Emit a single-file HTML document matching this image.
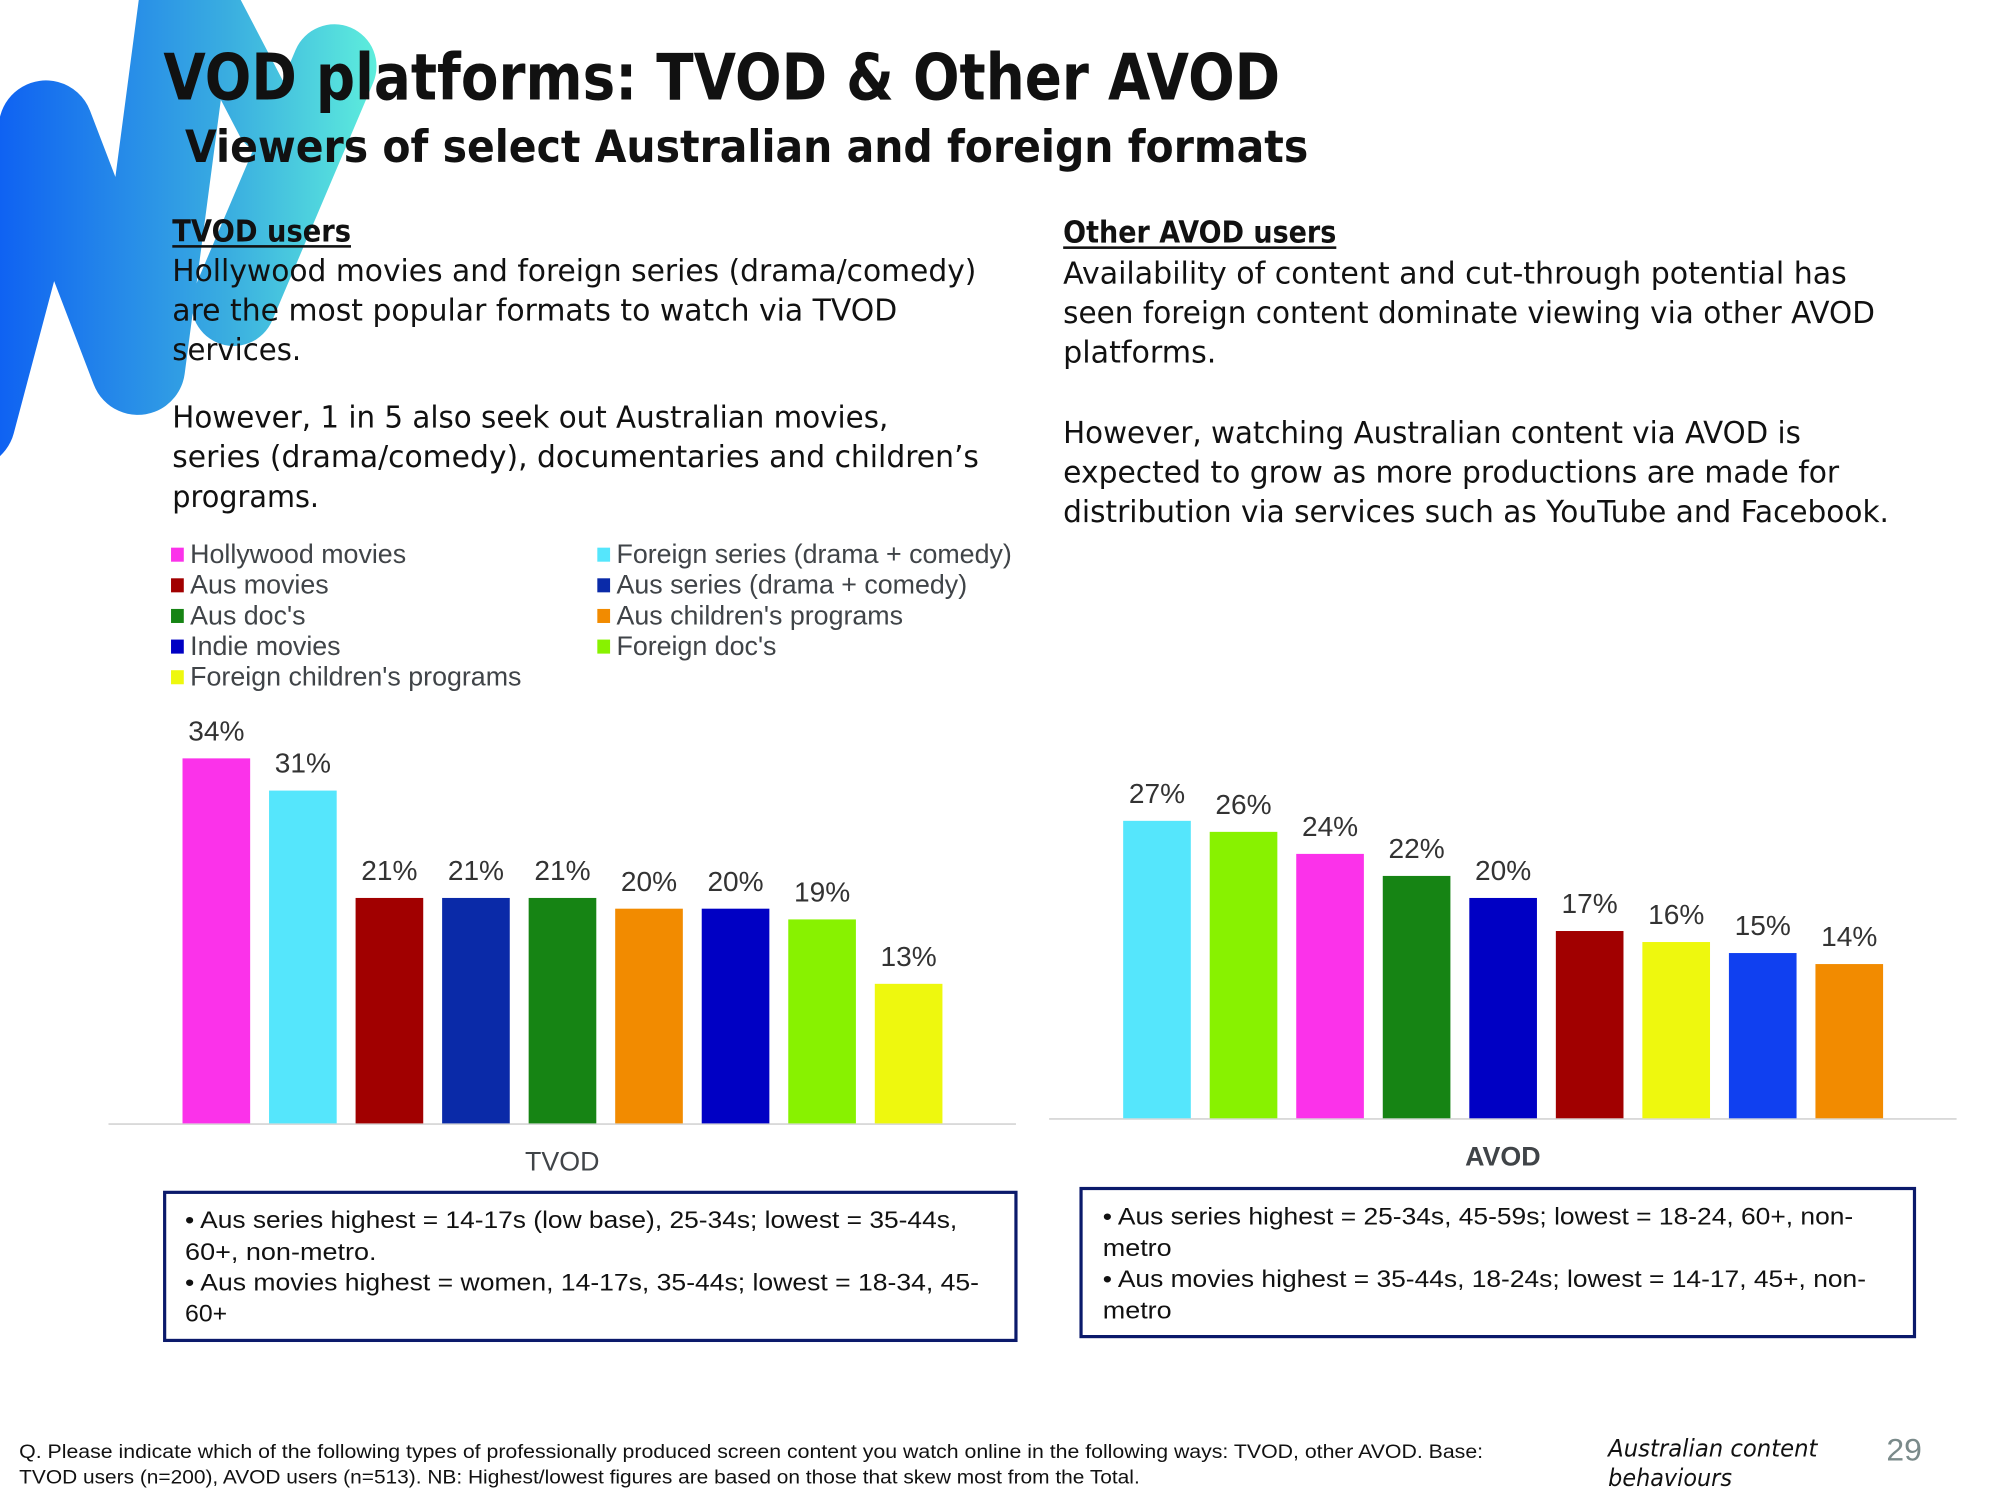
<!DOCTYPE html>
<html><head><meta charset="utf-8"><title>VOD platforms: TVOD &amp; Other AVOD</title>
<style>
html,body{margin:0;padding:0;background:#fff;}
svg{display:block;}
.t{font-family:"DejaVu Sans","Liberation Sans",sans-serif;fill:#111;}
.n{font-family:"Liberation Sans Narrow","Liberation Sans",sans-serif;}
</style></head>
<body>
<svg id="page" width="2000" height="1500" viewBox="0 0 1567 1175" preserveAspectRatio="none" xmlns="http://www.w3.org/2000/svg">
<defs>
<linearGradient id="lg" gradientUnits="userSpaceOnUse" x1="0" y1="0" x2="300" y2="0">
<stop offset="0" stop-color="#0f62f2"/><stop offset="0.6" stop-color="#3aaee0"/><stop offset="1" stop-color="#5ff0dc"/>
</linearGradient>
</defs>
<g>
<path d="M -25 330 L 36 100 L 108 288 L 150 -30" fill="none" stroke="url(#lg)" stroke-width="74" stroke-linejoin="round" stroke-linecap="round"/>
<path d="M 150 -20 L 210 95" fill="none" stroke="url(#lg)" stroke-width="50" stroke-linecap="round"/>
<path d="M 183 238 L 262 52" fill="none" stroke="url(#lg)" stroke-width="66" stroke-linecap="round"/>
</g>

<text class="t" x="128" y="78" font-size="50" font-weight="bold" textLength="875" lengthAdjust="spacingAndGlyphs">VOD platforms: TVOD &amp; Other AVOD</text>
<text class="t" x="145" y="127" font-size="35" font-weight="bold" textLength="880" lengthAdjust="spacingAndGlyphs">Viewers of select Australian and foreign formats</text>

<g font-size="24">
<text class="t" x="135" y="189" font-weight="bold" textLength="140" lengthAdjust="spacingAndGlyphs">TVOD users</text>
<rect x="135" y="192" width="140" height="2" fill="#111"/>
<text class="t" x="135" y="220" textLength="630" lengthAdjust="spacingAndGlyphs">Hollywood movies and foreign series (drama/comedy)</text>
<text class="t" x="135" y="251" textLength="568" lengthAdjust="spacingAndGlyphs">are the most popular formats to watch via TVOD</text>
<text class="t" x="135" y="282" textLength="101" lengthAdjust="spacingAndGlyphs">services.</text>
<text class="t" x="135" y="335" textLength="561" lengthAdjust="spacingAndGlyphs">However, 1 in 5 also seek out Australian movies,</text>
<text class="t" x="135" y="366" textLength="632" lengthAdjust="spacingAndGlyphs">series (drama/comedy), documentaries and children’s</text>
<text class="t" x="135" y="397" textLength="115" lengthAdjust="spacingAndGlyphs">programs.</text>
</g>

<g font-size="24">
<text class="t" x="833" y="190" font-weight="bold" textLength="214" lengthAdjust="spacingAndGlyphs">Other AVOD users</text>
<rect x="833" y="193" width="214" height="2" fill="#111"/>
<text class="t" x="833" y="222" textLength="614" lengthAdjust="spacingAndGlyphs">Availability of content and cut-through potential has</text>
<text class="t" x="833" y="253" textLength="636" lengthAdjust="spacingAndGlyphs">seen foreign content dominate viewing via other AVOD</text>
<text class="t" x="833" y="284" textLength="120" lengthAdjust="spacingAndGlyphs">platforms.</text>
<text class="t" x="833" y="347" textLength="578" lengthAdjust="spacingAndGlyphs">However, watching Australian content via AVOD is</text>
<text class="t" x="833" y="378" textLength="608" lengthAdjust="spacingAndGlyphs">expected to grow as more productions are made for</text>
<text class="t" x="833" y="409" textLength="647" lengthAdjust="spacingAndGlyphs">distribution via services such as YouTube and Facebook.</text>
</g>

<g id="legend"></g>
<g id="tvod-chart"></g>
<g id="avod-chart"></g>

<g font-size="19">
<rect x="129" y="934" width="667" height="116" fill="#fff" stroke="#0b1a6b" stroke-width="2.5"/>
<text class="t n" x="145" y="962" textLength="605" lengthAdjust="spacingAndGlyphs">• Aus series highest = 14-17s (low base), 25-34s; lowest = 35-44s,</text>
<text class="t n" x="145" y="987" textLength="150" lengthAdjust="spacingAndGlyphs">60+, non-metro.</text>
<text class="t n" x="145" y="1011" textLength="622" lengthAdjust="spacingAndGlyphs">• Aus movies highest = women, 14-17s, 35-44s; lowest = 18-34, 45-</text>
<text class="t n" x="145" y="1035" textLength="33" lengthAdjust="spacingAndGlyphs">60+</text>
</g>
<g font-size="19">
<rect x="847" y="931" width="653" height="116" fill="#fff" stroke="#0b1a6b" stroke-width="2.5"/>
<text class="t n" x="864" y="959" textLength="588" lengthAdjust="spacingAndGlyphs">• Aus series highest = 25-34s, 45-59s; lowest = 18-24, 60+, non-</text>
<text class="t n" x="864" y="984" textLength="54" lengthAdjust="spacingAndGlyphs">metro</text>
<text class="t n" x="864" y="1008" textLength="598" lengthAdjust="spacingAndGlyphs">• Aus movies highest = 35-44s, 18-24s; lowest = 14-17, 45+, non-</text>
<text class="t n" x="864" y="1033" textLength="54" lengthAdjust="spacingAndGlyphs">metro</text>
</g>

<g font-size="15">
<text class="t n" x="15" y="1142" textLength="1147" lengthAdjust="spacingAndGlyphs">Q. Please indicate which of the following types of professionally produced screen content you watch online in the following ways: TVOD, other AVOD. Base:</text>
<text class="t n" x="15" y="1162" textLength="878" lengthAdjust="spacingAndGlyphs">TVOD users (n=200), AVOD users (n=513). NB: Highest/lowest figures are based on those that skew most from the Total.</text>
</g>
<text class="t" x="1260" y="1141" font-size="19" font-style="italic" textLength="164" lengthAdjust="spacingAndGlyphs">Australian content</text>
<text class="t" x="1260" y="1164" font-size="19" font-style="italic" textLength="97" lengthAdjust="spacingAndGlyphs">behaviours</text>
<text class="t n" x="1478" y="1144" font-size="25" style="fill:#7a8a8a">29</text>
</svg>
<script>
const legendLabels = ["Hollywood movies","Aus movies","Aus doc's","Indie movies","Foreign children's programs","Foreign series (drama + comedy)","Aus series (drama + comedy)","Aus children's programs","Foreign doc's"];
const legendColors = ["#fb32ea","#a10000","#168414","#0000c4","#eef80e","#55e6fc","#0a2aa8","#f28b00","#88f200"];

const tvodCategories = ["Hollywood movies","Foreign series (drama + comedy)","Aus movies","Aus series (drama + comedy)","Aus doc's","Aus children's programs","Indie movies","Foreign doc's","Foreign children's programs"];
const tvodValues = [34,31,21,21,21,20,20,19,13];
const tvodColors = ["#fb32ea","#55e6fc","#a10000","#0a2aa8","#168414","#f28b00","#0000c4","#88f200","#eef80e"];

const avodCategories = ["Foreign series (drama + comedy)","Foreign doc's","Hollywood movies","Aus doc's","Indie movies","Aus movies","Foreign children's programs","Aus series (drama + comedy)","Aus children's programs"];
const avodValues = [27,26,24,22,20,17,16,15,14];
const avodColors = ["#55e6fc","#88f200","#fb32ea","#168414","#0000c4","#a10000","#eef80e","#1040f0","#f28b00"];

const NS = "http://www.w3.org/2000/svg";
function mk(tag, attrs, parent){ const e=document.createElementNS(NS,tag); for(const k in attrs) e.setAttribute(k,attrs[k]); parent.appendChild(e); return e; }

const lg = document.getElementById('legend');
legendLabels.forEach((lab,i)=>{
  const col = i<5?0:1, row = i<5?i:i-5;
  const x = col===0?134:468, y = 441 + row*24;
  const g = mk('g',{},lg);
  
  
  mk('rect',{x:x,y:y-12,width:10,height:11,fill:legendColors[i]},g);
  const t = mk('text',{x:x+15,y:y,'font-size':21,fill:'#404448','class':'n'},g);
  t.textContent = lab;
});

function drawChart(id, cats, vals, cols, opt){
  const root = document.getElementById(id);
  const y = v => opt.base - v*opt.pxPer;
  const x = i => opt.x0 + i*opt.step;
  mk('line',{x1:opt.ax0,x2:opt.ax1,y1:opt.base+0.5,y2:opt.base+0.5,stroke:'#d9d9d9','stroke-width':1.5},root);
  vals.forEach((v,i)=>{
    const r = mk('rect',{x:x(i),y:y(v),width:opt.bw,height:opt.base-y(v),fill:cols[i]},root);
    
    
    const t = mk('text',{x:x(i)+opt.bw/2,y:y(v)-14,'text-anchor':'middle','font-size':22,fill:'#333','font-family':'Liberation Sans, sans-serif'},root);
    
    
    t.textContent = v+'%';
  });
  const ax = mk('text',{x:(opt.ax0+opt.ax1)/2,y:opt.base+37,'text-anchor':'middle','font-size':21,fill:'#404448','class':'n','font-weight':opt.bold?'bold':'normal'},root);
  
  
  ax.textContent = opt.label;
}
drawChart('tvod-chart', tvodCategories, tvodValues, tvodColors, {base:880,pxPer:8.41,x0:143,step:67.8,bw:53,ax0:85,ax1:796,label:'TVOD',bold:false});
drawChart('avod-chart', avodCategories, avodValues, avodColors, {base:876,pxPer:8.63,x0:880,step:67.8,bw:53,ax0:822,ax1:1533,label:'AVOD',bold:true});
</script>
</body></html>
